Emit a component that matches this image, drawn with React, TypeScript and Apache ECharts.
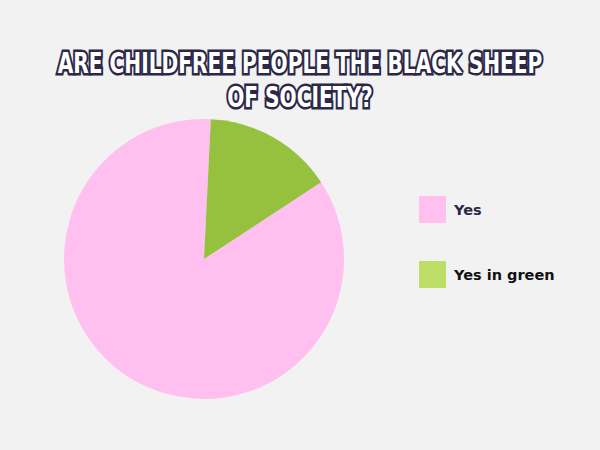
import React, { useEffect, useRef } from "react";
import * as echarts from "echarts";

const categories = ["Yes", "Yes in green"];
const values = [85, 15];
const sliceColors = ["#ffc0ef", "#95c13e"];
const legendColors = ["#ffc0ef", "#bcdd66"];
const legendTextColors = ["#2b2848", "#111111"];
const titleText = "ARE CHILDFREE PEOPLE THE BLACK SHEEP\nOF SOCIETY?";

export default function App() {
  const ref = useRef<HTMLDivElement>(null);
  useEffect(() => {
    document.body.style.margin = "0";
    if (!ref.current) return;
    const chart = echarts.init(ref.current, null, { renderer: "svg" });
    chart.setOption({
      animation: false,
      backgroundColor: "#f2f2f2",
      graphic: [
        {
          type: "text",
          x: 300,
          y: 80,
          scaleX: 0.8,
          style: {
            text: titleText,
            x: 0,
            y: 0,
            align: "center",
            verticalAlign: "middle",
            fontFamily: "'DejaVu Sans Condensed', 'DejaVu Sans', sans-serif",
            fontWeight: "bold",
            fontSize: 28,
            lineHeight: 34,
            fill: "#ffffff",
            stroke: "#2b2848",
            lineWidth: 5,
          },
        },
      ],
      legend: {
        orient: "vertical",
        left: 414,
        top: 191,
        itemWidth: 27,
        itemHeight: 27,
        itemGap: 38,
        icon: "rect",
        textStyle: {
          fontFamily: "'DejaVu Sans', sans-serif",
          fontWeight: "bold",
          fontSize: 14.5,
          padding: [0, 0, 0, 3],
        },
        data: categories.map((c, i) => ({
          name: c,
          itemStyle: { color: legendColors[i] },
          textStyle: { color: legendTextColors[i] },
        })),
        selectedMode: false,
      },
      series: [
        {
          type: "pie",
          center: [204, 259],
          radius: [0, 140],
          startAngle: 33.2,
          clockwise: true,
          label: { show: false },
          labelLine: { show: false },
          itemStyle: { borderWidth: 0 },
          emphasis: { disabled: true },
          data: categories.map((c, i) => ({
            name: c,
            value: values[i],
            itemStyle: { color: sliceColors[i] },
          })),
        },
      ],
    });
    return () => chart.dispose();
  }, []);
  return <div ref={ref} style={{ width: 600, height: 450 }} />;
}
